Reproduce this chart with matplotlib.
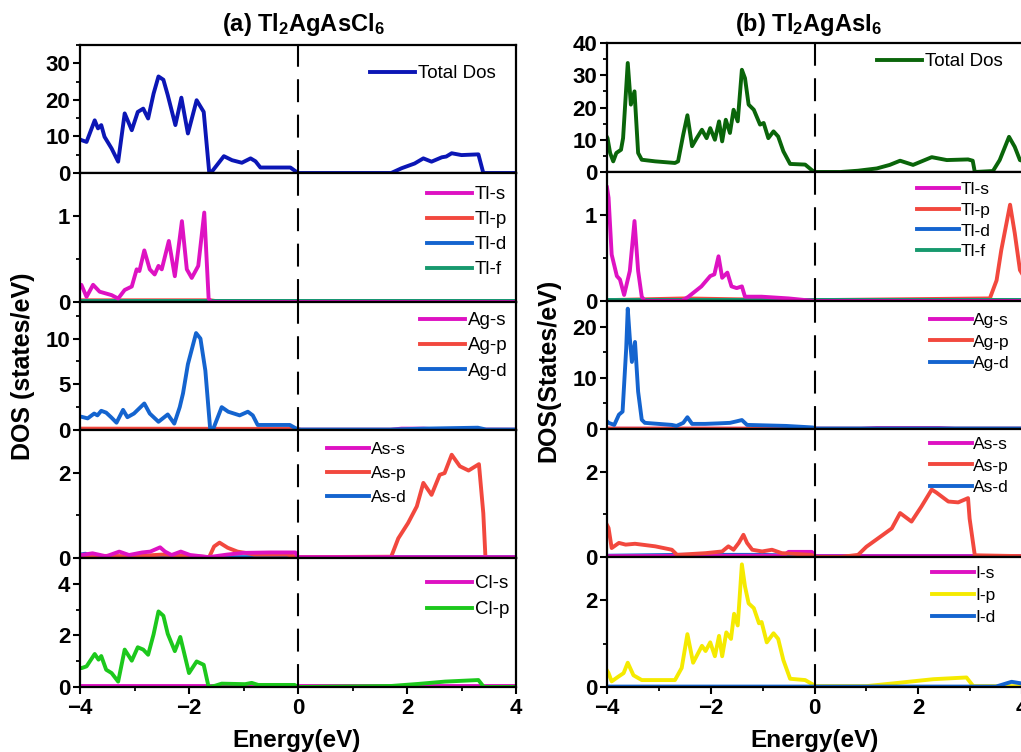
import matplotlib
matplotlib.use("Agg")
import matplotlib.pyplot as plt
from matplotlib.ticker import MultipleLocator

plt.rcParams['font.family'] = ['Liberation Sans', 'DejaVu Sans']
plt.rcParams['font.weight'] = 'bold'
plt.rcParams['mathtext.fontset'] = 'custom'
plt.rcParams['mathtext.rm'] = 'Liberation Sans:bold'
plt.rcParams['mathtext.it'] = 'Liberation Sans:bold'
plt.rcParams['mathtext.bf'] = 'Liberation Sans:bold'

W, H = 1021, 752

# ---------------- (a) Tl2AgAsCl6 ----------------
a_tot_E = [-4.0, -3.975, -3.88, -3.73, -3.67, -3.61, -3.55, -3.42, -3.30, -3.18, -3.05, -2.94, -2.84,
           -2.75, -2.65, -2.56, -2.47, -2.39, -2.25, -2.14, -2.02, -1.86, -1.73, -1.63, -1.60, -1.36,
           -1.21, -1.03, -0.87, -0.78, -0.69, -0.14, 0.0, 1.71, 1.90, 2.14, 2.30, 2.45, 2.64, 2.72,
           2.82, 3.00, 3.31, 3.40, 4.0]
a_tot = [9.2, 9.0, 8.5, 14.4, 12.2, 13.1, 9.9, 6.7, 3.1, 16.3, 11.7, 16.7, 17.6, 14.9, 21.7, 26.4,
         25.5, 21.3, 13.1, 20.6, 10.8, 19.9, 16.7, 0.3, 0.0, 4.6, 3.5, 2.8, 4.0, 3.2, 1.5, 1.5, 0.0,
         0.0, 1.3, 2.6, 4.0, 3.1, 4.3, 4.5, 5.4, 4.9, 5.1, 0.0, 0.0]

a_tls_E = [-4.0, -3.975, -3.88, -3.76, -3.64, -3.42, -3.30, -3.18, -3.05, -2.96, -2.91, -2.82, -2.72,
           -2.63, -2.56, -2.50, -2.37, -2.26, -2.13, -2.04, -1.95, -1.83, -1.72, -1.64, -1.60, 0.0, 4.0]
a_tls = [0.18, 0.20, 0.06, 0.20, 0.12, 0.08, 0.04, 0.14, 0.18, 0.38, 0.36, 0.60, 0.38, 0.32, 0.42,
         0.38, 0.71, 0.30, 0.94, 0.38, 0.28, 0.42, 1.04, 0.04, 0.0, 0.0, 0.0]
a_tlp_E = [-4.0, -1.6, -1.5, 4.0]
a_tlp = [0.02, 0.02, 0.01, 0.01]
a_tld_E = [-4.0, 4.0]
a_tld = [0.01, 0.01]
a_tlf_E = [-4.0, 4.0]
a_tlf = [0.01, 0.01]

a_ags_E = [-4.0, 1.7, 1.9, 2.3, 2.6, 4.0]
a_ags = [0.03, 0.03, 0.15, 0.15, 0.05, 0.03]
a_agp_E = [-4.0, 0.0, 0.05, 4.0]
a_agp = [0.15, 0.12, 0.02, 0.02]
a_agd_E = [-4.0, -3.975, -3.86, -3.74, -3.68, -3.61, -3.52, -3.43, -3.33, -3.21, -3.13, -3.01, -2.82,
           -2.72, -2.56, -2.39, -2.27, -2.17, -2.11, -2.02, -1.87, -1.79, -1.70, -1.61, -1.55, -1.40,
           -1.28, -1.07, -0.92, -0.83, -0.74, -0.15, 0.0, 1.7, 2.3, 3.3, 3.45, 4.0]
a_agd = [1.45, 1.45, 1.27, 1.8, 1.6, 2.1, 1.9, 1.4, 0.8, 2.2, 1.4, 1.8, 2.9, 1.8, 0.9, 1.7, 0.7,
         2.5, 4.0, 7.2, 10.6, 10.0, 6.5, 0.0, 0.2, 2.5, 2.0, 1.6, 2.0, 1.6, 0.55, 0.55, 0.05, 0.05,
         0.15, 0.25, 0.05, 0.05]

a_ass_E = [-4.0, -3.975, -3.77, -3.52, -3.28, -3.10, -2.86, -2.71, -2.53, -2.44, -2.32, -2.15, -1.98,
           -1.77, -1.64, -1.3, -1.0, -0.5, -0.05, 0.0, 4.0]
a_ass = [0.06, 0.07, 0.11, 0.04, 0.15, 0.07, 0.13, 0.15, 0.25, 0.15, 0.07, 0.15, 0.07, 0.04, 0.02,
         0.08, 0.12, 0.13, 0.13, 0.02, 0.02]
a_asp_E = [-4.0, -3.5, -3.0, -2.5, -2.0, -1.63, -1.54, -1.44, -1.29, -1.11, -0.92, -0.80, -0.2, 0.0,
           1.71, 1.84, 2.02, 2.18, 2.30, 2.45, 2.60, 2.69, 2.82, 2.97, 3.13, 3.32, 3.40, 3.44, 4.0]
a_asp = [0.03, 0.05, 0.04, 0.08, 0.05, 0.02, 0.27, 0.36, 0.24, 0.15, 0.11, 0.08, 0.08, 0.02, 0.03,
         0.46, 0.82, 1.21, 1.76, 1.48, 1.95, 1.99, 2.42, 2.15, 2.05, 2.20, 1.05, 0.0, 0.0]
a_asd_E = [-4.0, -3.9, -3.8, -3.6, 4.0]
a_asd = [0.08, 0.10, 0.05, 0.02, 0.02]

a_cls_E = [-4.0, 4.0]
a_cls = [0.02, 0.02]
a_clp_E = [-4.0, -3.975, -3.88, -3.73, -3.66, -3.61, -3.52, -3.42, -3.30, -3.18, -3.05, -2.94, -2.84,
           -2.75, -2.65, -2.56, -2.47, -2.39, -2.26, -2.16, -2.00, -1.86, -1.73, -1.64, -1.52, -1.40,
           -0.97, -0.85, -0.73, -0.06, 0.0, 1.71, 2.21, 2.70, 3.31, 3.41, 4.0]
a_clp = [0.75, 0.73, 0.8, 1.28, 1.06, 1.2, 0.67, 0.54, 0.21, 1.45, 1.02, 1.54, 1.45, 1.25, 2.04,
         2.93, 2.76, 2.06, 1.39, 1.94, 0.54, 0.99, 0.86, 0.0, 0.05, 0.13, 0.11, 0.16, 0.08, 0.08,
         0.0, 0.04, 0.12, 0.21, 0.27, 0.0, 0.0]

# ---------------- (b) Tl2AgAsI6 ----------------
b_tot_E = [-4.0, -3.99, -3.94, -3.88, -3.82, -3.73, -3.69, -3.60, -3.54, -3.47, -3.40, -3.33, -3.07,
           -2.69, -2.63, -2.53, -2.45, -2.36, -2.27, -2.17, -2.08, -2.01, -1.92, -1.84, -1.78, -1.71,
           -1.63, -1.56, -1.48, -1.40, -1.34, -1.27, -1.17, -1.05, -0.98, -0.89, -0.79, -0.70, -0.60,
           -0.47, -0.18, -0.06, 0.0, 0.5, 0.84, 1.20, 1.45, 1.65, 1.90, 2.26, 2.55, 2.96, 3.05, 3.09,
           3.44, 3.57, 3.75, 3.86, 3.96, 4.0]
b_tot = [10.8, 10.5, 5.9, 3.3, 5.9, 6.9, 10.5, 33.8, 20.9, 25.0, 5.9, 3.8, 3.3, 2.8, 3.3, 11.6, 17.6,
         8.0, 10.5, 13.1, 10.5, 13.6, 10.0, 15.7, 9.5, 16.2, 12.1, 19.3, 15.7, 31.7, 29.1, 20.9, 19.3,
         14.7, 15.2, 10.5, 12.6, 11.0, 6.4, 2.5, 2.3, 0.7, 0.0, 0.0, 0.4, 1.1, 2.2, 3.5, 2.2, 4.6, 3.7,
         3.9, 3.5, 0.0, 0.3, 3.7, 10.9, 7.8, 3.7, 3.5]

b_tls_E = [-4.0, -3.97, -3.91, -3.81, -3.75, -3.67, -3.56, -3.47, -3.40, -3.33, -3.27, -2.56, -2.43,
           -2.18, -2.01, -1.93, -1.85, -1.78, -1.68, -1.60, -1.50, -1.40, -1.34, -1.02, -0.5, 0.0, 4.0]
b_tls = [1.32, 1.2, 0.54, 0.29, 0.25, 0.07, 0.35, 0.93, 0.35, 0.05, 0.0, 0.0, 0.05, 0.17, 0.29,
         0.31, 0.52, 0.27, 0.33, 0.17, 0.15, 0.17, 0.05, 0.05, 0.03, 0.0, 0.0]
b_tlp_E = [-4.0, -2.5, -1.5, 0.0, 3.38, 3.51, 3.60, 3.77, 3.86, 3.96, 4.0]
b_tlp = [0.01, 0.03, 0.02, 0.01, 0.03, 0.24, 0.59, 1.12, 0.79, 0.36, 0.32]
b_tld_E = [-4.0, 4.0]
b_tld = [0.01, 0.01]
b_tlf_E = [-4.0, 4.0]
b_tlf = [0.01, 0.01]

b_ags_E = [-4.0, 0.9, 1.2, 2.4, 2.7, 4.0]
b_ags = [0.05, 0.05, 0.2, 0.2, 0.05, 0.05]
b_agp_E = [-4.0, 0.0, 4.0]
b_agp = [0.08, 0.05, 0.05]
b_agd_E = [-4.0, -3.97, -3.86, -3.77, -3.70, -3.63, -3.60, -3.56, -3.52, -3.46, -3.40, -3.33, -3.27,
           -2.75, -2.66, -2.53, -2.45, -2.36, -2.11, -1.85, -1.63, -1.50, -1.40, -1.30, -0.55, -0.03,
           0.0, 4.0]
b_agd = [1.5, 1.2, 0.8, 2.8, 3.4, 15.7, 23.5, 17.7, 13.1, 17.0, 7.3, 1.8, 1.2, 0.8, 0.6, 1.2, 2.3,
         1.0, 1.0, 1.1, 1.2, 1.5, 1.75, 0.8, 0.6, 0.3, 0.1, 0.1]

b_ass_E = [-4.0, -0.6, -0.5, -0.05, 0.0, 4.0]
b_ass = [0.02, 0.03, 0.12, 0.12, 0.02, 0.02]
b_asp_E = [-4.0, -3.97, -3.91, -3.77, -3.64, -3.46, -3.07, -2.75, -2.65, -2.10, -1.78, -1.66, -1.56,
           -1.46, -1.37, -1.30, -1.20, -1.01, -0.82, -0.63, -0.06, 0.0, 0.5, 0.84, 1.00, 1.32, 1.49,
           1.65, 1.87, 2.06, 2.26, 2.35, 2.58, 2.77, 2.96, 2.99, 3.09, 4.0]
b_asp = [0.75, 0.68, 0.21, 0.33, 0.29, 0.31, 0.25, 0.17, 0.05, 0.09, 0.13, 0.25, 0.17, 0.33, 0.52,
         0.33, 0.17, 0.13, 0.17, 0.09, 0.05, 0.0, 0.0, 0.05, 0.24, 0.52, 0.67, 1.03, 0.83, 1.18,
         1.58, 1.51, 1.30, 1.28, 1.38, 0.9, 0.04, 0.02]
b_asd_E = [-4.0, -2.6, -1.0, 0.0, 4.0]
b_asd = [0.03, 0.05, 0.05, 0.02, 0.02]

b_is_E = [-4.0, 4.0]
b_is = [0.01, 0.01]
b_ip_E = [-4.0, -3.97, -3.91, -3.78, -3.68, -3.60, -3.49, -3.33, -2.69, -2.56, -2.45, -2.34, -2.17,
          -2.10, -2.01, -1.92, -1.84, -1.78, -1.70, -1.61, -1.55, -1.48, -1.40, -1.34, -1.27, -1.17,
          -1.07, -1.02, -0.92, -0.79, -0.70, -0.60, -0.47, -0.18, -0.02, 0.0, 1.00, 1.65, 2.29, 2.93,
          3.06, 4.0]
b_ip = [0.38, 0.32, 0.13, 0.24, 0.32, 0.56, 0.27, 0.16, 0.16, 0.44, 1.22, 0.56, 0.95, 0.83, 1.03,
        0.71, 1.18, 0.71, 1.26, 1.11, 1.69, 1.42, 2.83, 2.32, 1.93, 1.82, 1.47, 1.5, 1.03, 1.24, 1.11,
        0.62, 0.19, 0.16, 0.05, 0.02, 0.02, 0.10, 0.18, 0.22, 0.02, 0.02]
b_id_E = [-4.0, 3.5, 3.8, 4.0]
b_id = [0.01, 0.01, 0.12, 0.08]

MAG = '#DE12C2'
RED = '#F2483E'
BLU = '#1464CF'
TEAL = '#17996E'

LW = 2.8

fig = plt.figure(figsize=(W / 100, H / 100), dpi=100)


def make_axes(x0, x1, top, bot):
    return fig.add_axes([x0 / W, 1 - bot / H, (x1 - x0) / W, (bot - top) / H])


def style(ax, ymax, major, minor, bottom=False):
    ax.set_xlim(-4, 4)
    ax.set_ylim(0, ymax)
    ax.yaxis.set_major_locator(MultipleLocator(major))
    ax.yaxis.set_minor_locator(MultipleLocator(minor))
    ax.xaxis.set_major_locator(MultipleLocator(2))
    ax.xaxis.set_minor_locator(MultipleLocator(1))
    for s in ax.spines.values():
        s.set_linewidth(1.6)
    ax.tick_params(axis='y', which='major', direction='out', length=5, width=1.5, pad=2, labelsize=16)
    ax.tick_params(axis='y', which='minor', direction='out', length=3, width=1.3)
    if bottom:
        ax.tick_params(axis='x', which='major', direction='out', length=5, width=1.5, pad=3, labelsize=16)
        ax.tick_params(axis='x', which='minor', direction='out', length=3, width=1.3)
    else:
        ax.tick_params(axis='x', which='both', bottom=False, labelbottom=False)
    ax.axvline(0, color='k', lw=1.5, dashes=(11, 6), zorder=5)


def legend(ax, order, x_px, y_top, fs, spacing, pad=0.15):
    h, l = ax.get_legend_handles_labels()
    ax.legend([h[i] for i in order], [l[i] for i in order], loc='upper left',
              bbox_to_anchor=(x_px / W, 1 - y_top / H), bbox_transform=fig.transFigure,
              frameon=False, borderpad=0, borderaxespad=0, handlelength=2.4, handletextpad=pad,
              labelspacing=spacing, prop={'weight': 'normal', 'size': fs})


lx0, lx1 = 80, 516
rx0, rx1 = 607, 1022
ltops = [45, 173, 302, 430, 558, 687]
rtops = [43, 172, 301, 429, 557, 687]

la = [make_axes(lx0, lx1, ltops[i], ltops[i + 1]) for i in range(5)]
ra = [make_axes(rx0, rx1, rtops[i], rtops[i + 1]) for i in range(5)]

# left column
ax = la[0]
ax.plot(a_tot_E, a_tot, color='#0B16B5', lw=LW, label='Total Dos')
style(ax, 35, 10, 5)
legend(ax, [0], 370, 65, 13.5, 0.2)

ax = la[1]
ax.plot(a_tlp_E, a_tlp, color=RED, lw=LW, label='Tl-p')
ax.plot(a_tld_E, a_tld, color=BLU, lw=LW, label='Tl-d')
ax.plot(a_tlf_E, a_tlf, color=TEAL, lw=LW, label='Tl-f')
ax.plot(a_tls_E, a_tls, color=MAG, lw=LW, label='Tl-s')
style(ax, 1.5, 1, 0.5)
legend(ax, [3, 0, 1, 2], 427, 186, 13.5, 0.42)

ax = la[2]
ax.plot(a_ags_E, a_ags, color=MAG, lw=LW, label='Ag-s')
ax.plot(a_agp_E, a_agp, color=RED, lw=LW, label='Ag-p')
ax.plot(a_agd_E, a_agd, color=BLU, lw=LW, label='Ag-d')
style(ax, 14, 5, 2.5)
legend(ax, [0, 1, 2], 420, 312, 13.5, 0.44)

ax = la[3]
ax.plot(a_asd_E, a_asd, color=BLU, lw=LW, label='As-d')
ax.plot(a_asp_E, a_asp, color=RED, lw=LW, label='As-p')
ax.plot(a_ass_E, a_ass, color=MAG, lw=LW, label='As-s')
style(ax, 3, 2, 1)
legend(ax, [2, 1, 0], 327, 442, 12.5, 0.5)

ax = la[4]
ax.plot(a_cls_E, a_cls, color=MAG, lw=LW, label='Cl-s')
ax.plot(a_clp_E, a_clp, color='#1CC81C', lw=LW, label='Cl-p')
style(ax, 5, 2, 1, bottom=True)
legend(ax, [0, 1], 427, 575, 13.5, 0.48)

# right column
ax = ra[0]
ax.plot(b_tot_E, b_tot, color='#0A650A', lw=LW, label='Total Dos')
style(ax, 40, 10, 5)
legend(ax, [0], 877, 53, 13.5, 0.2)

ax = ra[1]
ax.plot(b_tlp_E, b_tlp, color=RED, lw=LW, label='Tl-p')
ax.plot(b_tld_E, b_tld, color=BLU, lw=LW, label='Tl-d')
ax.plot(b_tlf_E, b_tlf, color=TEAL, lw=LW, label='Tl-f')
ax.plot(b_tls_E, b_tls, color=MAG, lw=LW, label='Tl-s')
style(ax, 1.5, 1, 0.5)
legend(ax, [3, 0, 1, 2], 917, 182, 12.5, 0.32, pad=0.1)

ax = ra[2]
ax.plot(b_ags_E, b_ags, color=MAG, lw=LW, label='Ag-s')
ax.plot(b_agp_E, b_agp, color=RED, lw=LW, label='Ag-p')
ax.plot(b_agd_E, b_agd, color=BLU, lw=LW, label='Ag-d')
style(ax, 25, 10, 5)
legend(ax, [0, 1, 2], 930, 313, 12.5, 0.36, pad=0.1)

ax = ra[3]
ax.plot(b_asd_E, b_asd, color=BLU, lw=LW, label='As-d')
ax.plot(b_ass_E, b_ass, color=MAG, lw=LW, label='As-s')
ax.plot(b_asp_E, b_asp, color=RED, lw=LW, label='As-p')
style(ax, 3, 2, 1)
legend(ax, [1, 2, 0], 930, 437, 12.5, 0.36, pad=0.1)

ax = ra[4]
ax.plot(b_is_E, b_is, color=MAG, lw=LW, label='I-s')
ax.plot(b_ip_E, b_ip, color='#F5EA00', lw=LW, label='I-p')
ax.plot(b_id_E, b_id, color=BLU, lw=LW, label='I-d')
style(ax, 3, 2, 1, bottom=True)
legend(ax, [0, 1, 2], 932, 566, 12.5, 0.4, pad=0.1)

# titles and axis labels
fig.text(303 / W, 1 - 25 / H, '(a) Tl$_2$AgAsCl$_6$', ha='center', va='center', fontsize=17, weight='bold')
fig.text(808 / W, 1 - 25 / H, '(b) Tl$_2$AgAsI$_6$', ha='center', va='center', fontsize=17, weight='bold')
fig.text(23 / W, 1 - 366 / H, 'DOS (states/eV)', rotation=90, ha='center', va='center', fontsize=18, weight='bold')
fig.text(548 / W, 1 - 370 / H, 'DOS(States/eV)', rotation=90, ha='center', va='center', fontsize=18, weight='bold')
fig.text(297 / W, 1 - 740 / H, 'Energy(eV)', ha='center', va='center', fontsize=17.5, weight='bold')
fig.text(815 / W, 1 - 740 / H, 'Energy(eV)', ha='center', va='center', fontsize=17.5, weight='bold')

fig.savefig('out.png', dpi=100)
